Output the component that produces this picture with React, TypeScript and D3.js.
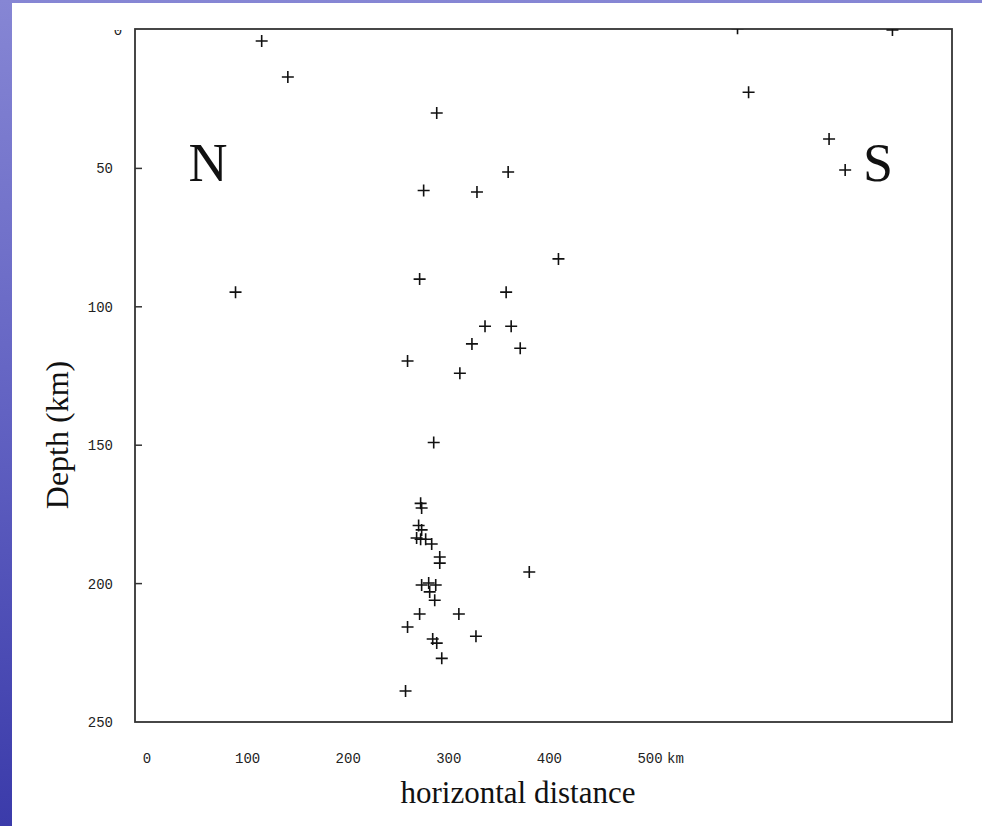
import { useEffect, useRef } from 'react'
import * as d3 from 'd3'

const W = 982
const H = 826
const FRAME = { left: 135, right: 952, top: 29, bottom: 722 }

// horizontal distance (km) and depth (km)
const distance = [
  114, 140, 288, 598, 741, 587, 678, 694, 359, 275, 328, 409, 271, 357, 88, 336, 362, 323,
  371, 259, 311, 285, 272, 273, 270, 273, 268, 272, 277, 283, 291, 291, 273, 280, 287, 281,
  286, 271, 310, 259, 327, 284, 288, 293, 257, 380,
]
const depth = [
  4, 17, 30, 22.5, 0, -0.6, 39.4, 50.6, 51.3, 58, 58.5, 82.7, 90, 94.7, 94.7, 107, 107, 113.4,
  115, 119.6, 124, 149, 171, 172.7, 179, 180.6, 183.5, 184, 184, 185.7, 190.4, 192.6, 200.5,
  199.8, 200.5, 203, 206, 211, 211, 215.7, 219, 220, 221.5, 227, 238.8, 195.8,
]
const xTicks = [0, 100, 200, 300, 400, 500]
const yTicks = [0, 50, 100, 150, 200, 250]

export default function App() {
  const ref = useRef<SVGSVGElement>(null)

  useEffect(() => {
    const svg = d3.select(ref.current)
    svg.selectAll('*').remove()

    // the tick labels sit at 0 -> 147px, 500 -> 650px on the original figure
    const x = d3.scaleLinear().domain([0, 500]).range([147, 650])
    const y = d3.scaleLinear().domain([0, 250]).range([30, 722])

    const defs = svg.append('defs')
    const grad = defs.append('linearGradient').attr('id', 'bg').attr('x1', 0).attr('y1', 0).attr('x2', 0).attr('y2', 1)
    grad.append('stop').attr('offset', '0%').attr('stop-color', '#8686d4')
    grad.append('stop').attr('offset', '50%').attr('stop-color', '#6262c2')
    grad.append('stop').attr('offset', '100%').attr('stop-color', '#3b3baa')
    defs.append('clipPath').attr('id', 'plot')
      .append('rect')
      .attr('x', FRAME.left).attr('y', FRAME.top)
      .attr('width', FRAME.right - FRAME.left).attr('height', FRAME.bottom - FRAME.top)
    defs.append('clipPath').attr('id', 'lab')
      .append('rect').attr('x', 0).attr('y', 30).attr('width', W).attr('height', H)

    svg.append('rect').attr('width', W).attr('height', H).attr('fill', 'url(#bg)')
    svg.append('rect').attr('x', 12).attr('y', 3).attr('width', W - 12).attr('height', H - 3).attr('fill', '#fff')

    // frame
    svg.append('rect')
      .attr('x', FRAME.left).attr('y', FRAME.top)
      .attr('width', FRAME.right - FRAME.left).attr('height', FRAME.bottom - FRAME.top)
      .attr('fill', 'none').attr('stroke', '#333').attr('stroke-width', 1.8)

    // left ticks
    svg.append('g').selectAll('line')
      .data(yTicks.slice(1, -1))
      .join('line')
      .attr('x1', FRAME.left).attr('x2', FRAME.left + 7)
      .attr('y1', (d) => y(d)).attr('y2', (d) => y(d))
      .attr('stroke', '#333').attr('stroke-width', 1.5)

    svg.append('g').attr('clip-path', 'url(#lab)')
      .selectAll('text')
      .data(yTicks)
      .join('text')
      .attr('x', (d) => (d === 0 ? 118 : 113))
      .attr('y', (d) => y(d) + 5)
      .attr('text-anchor', (d) => (d === 0 ? 'middle' : 'end'))
      .attr('font-family', 'Liberation Mono, monospace')
      .attr('font-size', 14)
      .attr('fill', '#222')
      .text((d) => String(d))

    svg.append('g').selectAll('text')
      .data(xTicks)
      .join('text')
      .attr('x', (d) => x(d))
      .attr('y', 763)
      .attr('text-anchor', 'middle')
      .attr('font-family', 'Liberation Mono, monospace')
      .attr('font-size', 14)
      .attr('fill', '#222')
      .text((d) => String(d))
    svg.append('text')
      .attr('x', x(500) + 17).attr('y', 763)
      .attr('font-family', 'Liberation Mono, monospace')
      .attr('font-size', 14).attr('fill', '#222')
      .text('km')

    svg.append('text')
      .attr('x', 518).attr('y', 803)
      .attr('text-anchor', 'middle')
      .attr('font-family', 'Liberation Serif, serif')
      .attr('font-size', 31).attr('fill', '#111')
      .text('horizontal distance')

    svg.append('text')
      .attr('transform', 'translate(68,435) rotate(-90)')
      .attr('text-anchor', 'middle')
      .attr('font-family', 'Liberation Serif, serif')
      .attr('font-size', 32).attr('fill', '#111')
      .text('Depth (km)')

    svg.append('text')
      .attr('x', 208).attr('y', 181)
      .attr('text-anchor', 'middle')
      .attr('font-family', 'Liberation Serif, serif')
      .attr('font-size', 54).attr('fill', '#111')
      .text('N')
    svg.append('text')
      .attr('x', 878).attr('y', 181)
      .attr('text-anchor', 'middle')
      .attr('font-family', 'Liberation Serif, serif')
      .attr('font-size', 54).attr('fill', '#111')
      .text('S')

    // events
    const pts = distance.map((d, i) => ({ d, z: depth[i] }))
    svg.append('g').attr('clip-path', 'url(#plot)')
      .selectAll('path')
      .data(pts)
      .join('path')
      .attr('transform', (p) => `translate(${x(p.d)},${y(p.z)})`)
      .attr('d', 'M-6,0H6M0,-6V6')
      .attr('stroke', '#111')
      .attr('stroke-width', 1.6)
      .attr('fill', 'none')
  }, [])

  return (
    <svg
      ref={ref}
      width={W}
      height={H}
      style={{ position: 'absolute', left: 0, top: 0, display: 'block' }}
    />
  )
}
